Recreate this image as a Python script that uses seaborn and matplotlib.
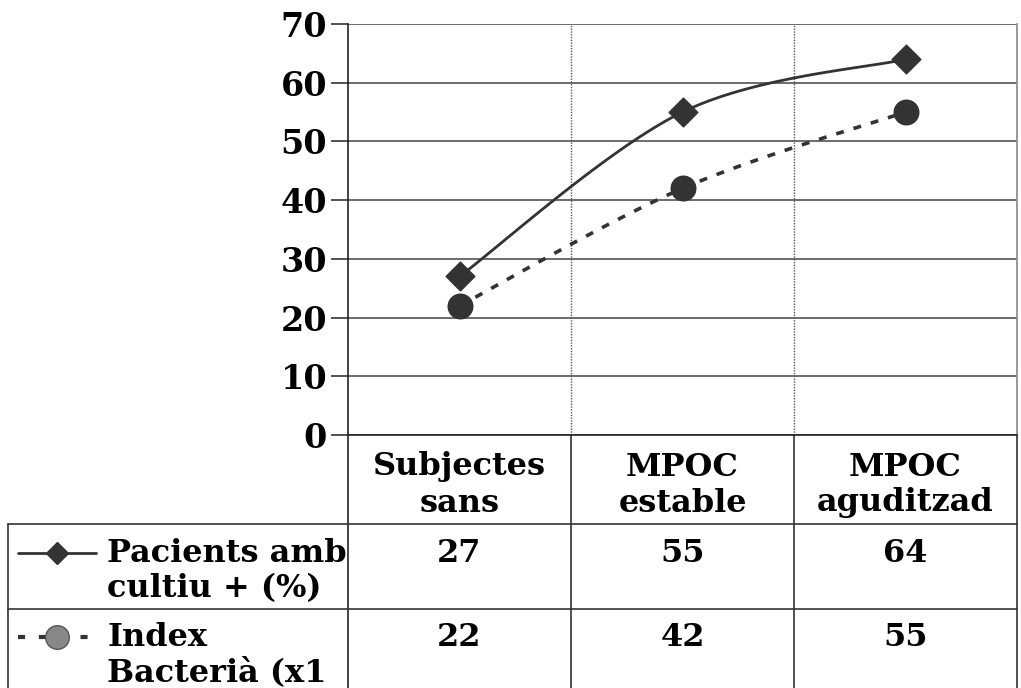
import numpy as np
import matplotlib
matplotlib.use("Agg")
import matplotlib.pyplot as plt
import seaborn as sns
from matplotlib.patches import Rectangle
from matplotlib.lines import Line2D

# ---- data ----
categories = [["Subjectes", "sans"], ["MPOC", "estable"], ["MPOC", "aguditzad"]]
series_names = [["Pacients amb", "cultiu + (%)"], ["Index", "Bacterià (x1"]]
pacients = [27, 55, 64]
index_bact = [22, 42, 55]
yticks = [0, 10, 20, 30, 40, 50, 60, 70]

sns.set_theme(style="white")
plt.rcParams['font.family'] = ['DejaVu Serif']
plt.rcParams['font.weight'] = 'bold'

W, H = 1021, 688
fig = plt.figure(figsize=(W / 100, H / 100), dpi=100)
fig.patch.set_facecolor("white")

# overlay axes in pixel coordinates for the data table
ov = fig.add_axes([0, 0, 1, 1])
ov.set_xlim(0, W)
ov.set_ylim(H, 0)
ov.axis("off")

L, R, T, B = 348, 1017, 24, 435
ax = fig.add_axes([L / W, 1 - B / H, (R - L) / W, (B - T) / H])
ax.set_facecolor("none")

n = len(pacients)
xs = np.arange(n)


def catmull_rom(x, y, per=40):
    P = np.column_stack([x, y]).astype(float)
    P = np.vstack([P[0], P, P[-1]])
    out = []
    for i in range(1, len(P) - 2):
        p0, p1, p2, p3 = P[i - 1], P[i], P[i + 1], P[i + 2]
        t = np.linspace(0, 1, per)[:, None]
        pt = 0.5 * ((2 * p1) + (-p0 + p2) * t + (2 * p0 - 5 * p1 + 4 * p2 - p3) * t ** 2
                    + (-p0 + 3 * p1 - 3 * p2 + p3) * t ** 3)
        out.append(pt)
    out = np.vstack(out)
    return out[:, 0], out[:, 1]


dark = "#333333"
sx, sy = catmull_rom(xs, pacients)
ax.plot(sx, sy, color=dark, lw=2.0, zorder=3)
sx2, sy2 = catmull_rom(xs, index_bact)
ax.plot(sx2, sy2, color=dark, lw=2.6, linestyle=(0, (2.2, 2.8)), zorder=3)

sns.scatterplot(x=xs, y=pacients, marker="D", s=210, color=dark, edgecolor=dark, ax=ax, zorder=4, legend=False)
sns.scatterplot(x=xs, y=index_bact, marker="o", s=300, color=dark, edgecolor=dark, ax=ax, zorder=4, legend=False)

ax.set_xlim(-0.5, n - 0.5)
ax.set_ylim(0, 70)
ax.set_yticks(yticks)
ax.set_yticklabels([str(v) for v in yticks], fontsize=24, fontweight="bold",
                   family="DejaVu Serif", color="black")
ax.set_xticks([])
for v in yticks:
    ax.axhline(v, color="#444444", lw=1.1, zorder=1)
for b in np.arange(0.5, n - 0.5, 1.0):
    ax.axvline(b, color="#555555", lw=1.0, linestyle=(0, (1, 1)), zorder=1)
ax.tick_params(axis="y", length=12, width=1.1, color="#222222", pad=3, direction="out", left=True)
ax.spines["top"].set_visible(False)
ax.spines["left"].set_color("#222222")
ax.spines["left"].set_linewidth(1.2)
ax.spines["bottom"].set_color("#222222")
ax.spines["bottom"].set_linewidth(1.2)
ax.spines["right"].set_color("#888888")
ax.spines["right"].set_linewidth(1.2)
ax.grid(False)

# ---- data table ----
col_edges = [L + (R - L) * i / n for i in range(n + 1)]
row_y = [B, 524, 609, H]
lc = "#333333"
ov.add_line(Line2D([L, L], [B, H], color="#222222", lw=1.2))
for xe in col_edges[1:]:
    ov.add_line(Line2D([xe, xe], [B, H], color=lc, lw=1.2))
ov.add_line(Line2D([8, 8], [row_y[1], H], color=lc, lw=1.2))
for yy in row_y[1:3]:
    ov.add_line(Line2D([8, R], [yy, yy], color=lc, lw=1.2))

fs = 23
tkw = dict(fontsize=fs, fontweight="bold", family="DejaVu Serif", color="black")
for i, cat in enumerate(categories):
    cx = (col_edges[i] + col_edges[i + 1]) / 2
    clip = Rectangle((col_edges[i], B), col_edges[i + 1] - col_edges[i] - 2, row_y[1] - B,
                     transform=ov.transData, facecolor="none", edgecolor="none")
    for j, line in enumerate(cat):
        t = ov.text(cx, 467 + 36 * j, line, ha="center", va="center", **tkw)
        t.set_clip_path(clip)
        t.set_clip_on(True)

series_vals = [pacients, index_bact]
row_tops = [553, 637]
for r, vals in enumerate(series_vals):
    for i, v in enumerate(vals):
        cx = (col_edges[i] + col_edges[i + 1]) / 2
        ov.text(cx, row_tops[r], str(v), ha="center", va="center", **tkw)
    for j, line in enumerate(series_names[r]):
        t = ov.text(107, row_tops[r] + 36 * j, line, ha="left", va="center", **tkw)
        if r == 1:
            clip = Rectangle((8, row_y[2]), L - 2 - 8, H - row_y[2],
                             transform=ov.transData, facecolor="none", edgecolor="none")
            t.set_clip_path(clip)
            t.set_clip_on(True)

# legend keys inside the table
ov.add_line(Line2D([18, 96], [553, 553], color=dark, lw=2.0))
ov.add_line(Line2D([57], [553], marker="D", markersize=11.5, color=dark, markeredgecolor=dark))
ov.add_line(Line2D([18, 96], [637, 637], color=dark, lw=3, linestyle=(0, (1.7, 3.3))))
ov.add_line(Line2D([57], [637], marker="o", markersize=17, color="#888888",
                   markeredgecolor="#555555", markeredgewidth=1))

fig.savefig("out.png", dpi=100, facecolor="white")
